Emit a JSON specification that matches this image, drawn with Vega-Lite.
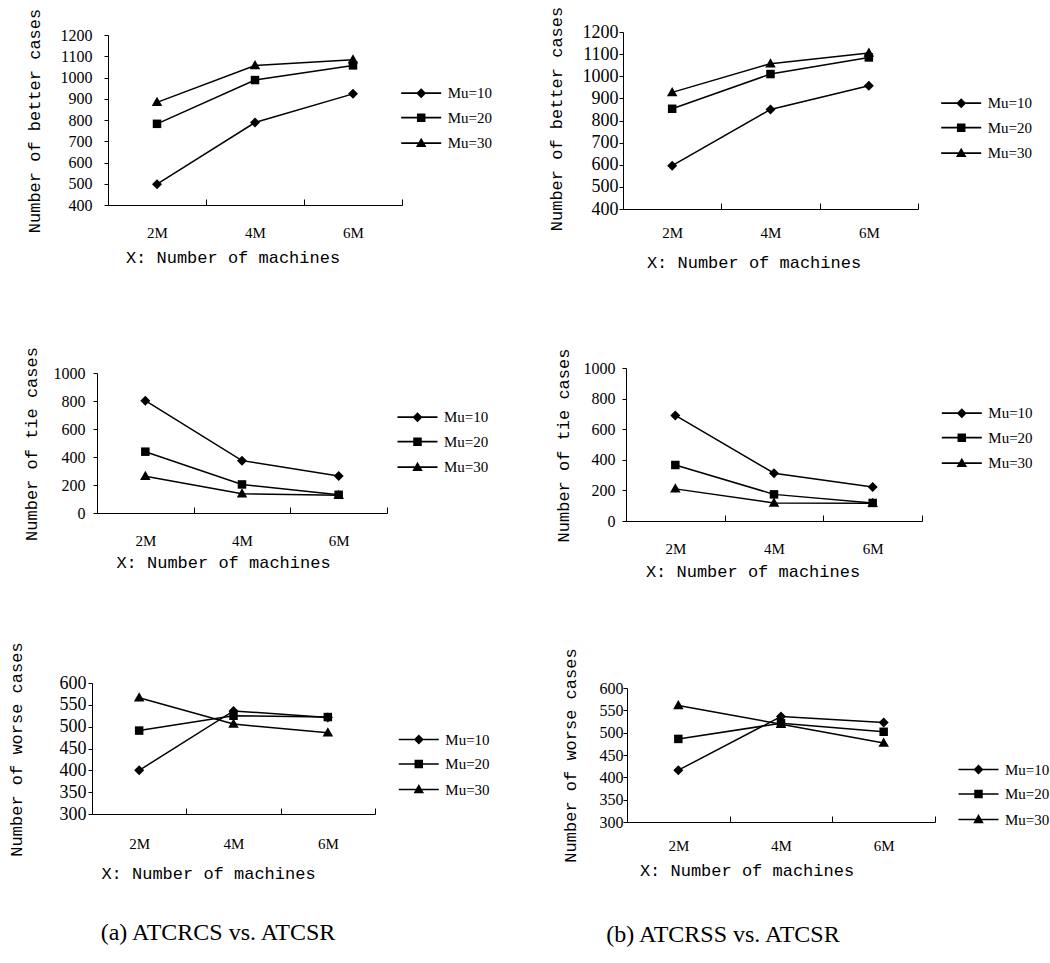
{
  "$schema": "https://vega.github.io/schema/vega-lite/v6.json",
  "padding": {"left": 6, "top": 6, "right": 5, "bottom": 5},
  "background": "white",
  "datasets": {
    "p1": [
      {"machines": "2M", "series": "Mu=10", "value": 498},
      {"machines": "4M", "series": "Mu=10", "value": 788},
      {"machines": "6M", "series": "Mu=10", "value": 923},
      {"machines": "2M", "series": "Mu=20", "value": 782},
      {"machines": "4M", "series": "Mu=20", "value": 988},
      {"machines": "6M", "series": "Mu=20", "value": 1057},
      {"machines": "2M", "series": "Mu=30", "value": 883},
      {"machines": "4M", "series": "Mu=30", "value": 1056},
      {"machines": "6M", "series": "Mu=30", "value": 1083}
    ],
    "p2": [
      {"machines": "2M", "series": "Mu=10", "value": 596},
      {"machines": "4M", "series": "Mu=10", "value": 850},
      {"machines": "6M", "series": "Mu=10", "value": 957},
      {"machines": "2M", "series": "Mu=20", "value": 853},
      {"machines": "4M", "series": "Mu=20", "value": 1010},
      {"machines": "6M", "series": "Mu=20", "value": 1085},
      {"machines": "2M", "series": "Mu=30", "value": 927},
      {"machines": "4M", "series": "Mu=30", "value": 1057},
      {"machines": "6M", "series": "Mu=30", "value": 1105}
    ],
    "p3": [
      {"machines": "2M", "series": "Mu=10", "value": 802},
      {"machines": "4M", "series": "Mu=10", "value": 374},
      {"machines": "6M", "series": "Mu=10", "value": 265},
      {"machines": "2M", "series": "Mu=20", "value": 438},
      {"machines": "4M", "series": "Mu=20", "value": 204},
      {"machines": "6M", "series": "Mu=20", "value": 130},
      {"machines": "2M", "series": "Mu=30", "value": 262},
      {"machines": "4M", "series": "Mu=30", "value": 138},
      {"machines": "6M", "series": "Mu=30", "value": 126}
    ],
    "p4": [
      {"machines": "2M", "series": "Mu=10", "value": 690},
      {"machines": "4M", "series": "Mu=10", "value": 312},
      {"machines": "6M", "series": "Mu=10", "value": 222},
      {"machines": "2M", "series": "Mu=20", "value": 366},
      {"machines": "4M", "series": "Mu=20", "value": 174},
      {"machines": "6M", "series": "Mu=20", "value": 118},
      {"machines": "2M", "series": "Mu=30", "value": 210},
      {"machines": "4M", "series": "Mu=30", "value": 118},
      {"machines": "6M", "series": "Mu=30", "value": 116}
    ],
    "p5": [
      {"machines": "2M", "series": "Mu=10", "value": 400},
      {"machines": "4M", "series": "Mu=10", "value": 536},
      {"machines": "6M", "series": "Mu=10", "value": 521},
      {"machines": "2M", "series": "Mu=20", "value": 491},
      {"machines": "4M", "series": "Mu=20", "value": 525},
      {"machines": "6M", "series": "Mu=20", "value": 522},
      {"machines": "2M", "series": "Mu=30", "value": 566},
      {"machines": "4M", "series": "Mu=30", "value": 506},
      {"machines": "6M", "series": "Mu=30", "value": 486}
    ],
    "p6": [
      {"machines": "2M", "series": "Mu=10", "value": 416},
      {"machines": "4M", "series": "Mu=10", "value": 536},
      {"machines": "6M", "series": "Mu=10", "value": 523},
      {"machines": "2M", "series": "Mu=20", "value": 486},
      {"machines": "4M", "series": "Mu=20", "value": 521},
      {"machines": "6M", "series": "Mu=20", "value": 502},
      {"machines": "2M", "series": "Mu=30", "value": 561},
      {"machines": "4M", "series": "Mu=30", "value": 519},
      {"machines": "6M", "series": "Mu=30", "value": 477}
    ]
  },
  "concat": [
    {
      "width": 294, "height": 173,
      "data": {"name": "p1"},
      "encoding": {
        "x": {"field": "machines", "type": "ordinal", "scale": {"type": "band", "paddingInner": 0, "paddingOuter": 0},
          "axis": {"title": "X: Number of machines", "titleX": 124.5, "titleY": 44, "labelPadding": 26}},
        "y": {"field": "value", "type": "quantitative", "scale": {"domain": [400, 1200], "nice": false, "zero": false, "range": [173, 3]},
          "axis": {"title": "Number of better cases", "titleX": -68.5, "titleY": 88.5, "values": [400, 500, 600, 700, 800, 900, 1000, 1100, 1200], "labelPadding": 12, "labelFontSize": 16}}
      },
      "layer": [
        {"mark": {"type": "line", "color": "black", "strokeWidth": 1.5}, "encoding": {"detail": {"field": "series"}}},
        {"mark": {"type": "point", "filled": true, "color": "black", "opacity": 1, "size": 100},
          "encoding": {"shape": {"field": "series", "type": "nominal", "legend": null}}},
        {"transform": [{"filter": "datum.value < 0"}],
          "mark": {"type": "point", "filled": true, "color": "black", "opacity": 1, "size": 100},
          "encoding": {"shape": {"field": "series", "type": "nominal",
            "scale": {"domain": ["Mu=10", "Mu=20", "Mu=30"], "range": ["M-4,-0.17L4,-0.17L4,0.17L-4,0.17ZM0,-1L1,0L0,1L-1,0Z", "M-4,-0.17L4,-0.17L4,0.17L-4,0.17ZM-0.85,-0.85L0.85,-0.85L0.85,0.85L-0.85,0.85Z", "M-4,-0.17L4,-0.17L4,0.17L-4,0.17ZM0,-1.1L1.05,0.75L-1.05,0.75Z"]},
            "legend": {"legendX": 305.7, "legendY": 53.7}}}}
      ],
      "resolve": {"scale": {"shape": "independent"}, "legend": {"shape": "independent"}}
    },
    {
      "width": 291, "height": 177,
      "data": {"name": "p2"},
      "encoding": {
        "x": {"field": "machines", "type": "ordinal", "scale": {"type": "band", "paddingInner": 0, "paddingOuter": 0, "range": [-4, 291]},
          "axis": {"title": "X: Number of machines", "titleX": 126.5, "titleY": 45, "labelPadding": 22}},
        "y": {"field": "value", "type": "quantitative", "scale": {"domain": [400, 1200], "nice": false, "zero": false},
          "axis": {"title": "Number of better cases", "offset": 4, "titleX": -62, "titleY": 86.5, "values": [400, 500, 600, 700, 800, 900, 1000, 1100, 1200], "labelPadding": 1, "labelFontSize": 18}}
      },
      "layer": [
        {"mark": {"type": "line", "color": "black", "strokeWidth": 1.5}, "encoding": {"detail": {"field": "series"}}},
        {"mark": {"type": "point", "filled": true, "color": "black", "opacity": 1, "size": 100},
          "encoding": {"shape": {"field": "series", "type": "nominal", "legend": null}}},
        {"transform": [{"filter": "datum.value < 0"}],
          "mark": {"type": "point", "filled": true, "color": "black", "opacity": 1, "size": 100},
          "encoding": {"shape": {"field": "series", "type": "nominal",
            "scale": {"domain": ["Mu=10", "Mu=20", "Mu=30"], "range": ["M-4,-0.17L4,-0.17L4,0.17L-4,0.17ZM0,-1L1,0L0,1L-1,0Z", "M-4,-0.17L4,-0.17L4,0.17L-4,0.17ZM-0.85,-0.85L0.85,-0.85L0.85,0.85L-0.85,0.85Z", "M-4,-0.17L4,-0.17L4,0.17L-4,0.17ZM0,-1.1L1.05,0.75L-1.05,0.75Z"]},
            "legend": {"legendX": 326.7, "legendY": 63.7}}}}
      ],
      "resolve": {"scale": {"shape": "independent"}, "legend": {"shape": "independent"}}
    },
    {
      "width": 279, "height": 145,
      "data": {"name": "p3"},
      "encoding": {
        "x": {"field": "machines", "type": "ordinal", "scale": {"type": "band", "paddingInner": 0, "paddingOuter": 0, "range": [-11, 279]},
          "axis": {"title": "X: Number of machines", "titleX": 115, "titleY": 41, "labelPadding": 26}},
        "y": {"field": "value", "type": "quantitative", "scale": {"domain": [0, 1000], "nice": false, "range": [145, 5]},
          "axis": {"title": "Number of tie cases", "offset": 11, "titleX": -61, "titleY": 75.5, "values": [0, 200, 400, 600, 800, 1000], "labelPadding": 8, "labelFontSize": 16}}
      },
      "layer": [
        {"mark": {"type": "line", "color": "black", "strokeWidth": 1.5}, "encoding": {"detail": {"field": "series"}}},
        {"mark": {"type": "point", "filled": true, "color": "black", "opacity": 1, "size": 100},
          "encoding": {"shape": {"field": "series", "type": "nominal", "legend": null}}},
        {"transform": [{"filter": "datum.value < 0"}],
          "mark": {"type": "point", "filled": true, "color": "black", "opacity": 1, "size": 100},
          "encoding": {"shape": {"field": "series", "type": "nominal",
            "scale": {"domain": ["Mu=10", "Mu=20", "Mu=30"], "range": ["M-4,-0.17L4,-0.17L4,0.17L-4,0.17ZM0,-1L1,0L0,1L-1,0Z", "M-4,-0.17L4,-0.17L4,0.17L-4,0.17ZM-0.85,-0.85L0.85,-0.85L0.85,0.85L-0.85,0.85Z", "M-4,-0.17L4,-0.17L4,0.17L-4,0.17ZM0,-1.1L1.05,0.75L-1.05,0.75Z"]},
            "legend": {"legendX": 302, "legendY": 41.7}}}}
      ],
      "resolve": {"scale": {"shape": "independent"}, "legend": {"shape": "independent"}}
    },
    {
      "width": 295, "height": 153,
      "data": {"name": "p4"},
      "encoding": {
        "x": {"field": "machines", "type": "ordinal", "scale": {"type": "band", "paddingInner": 0, "paddingOuter": 0, "range": [-1, 295]},
          "axis": {"title": "X: Number of machines", "titleX": 125.5, "titleY": 42, "labelPadding": 26}},
        "y": {"field": "value", "type": "quantitative", "scale": {"domain": [0, 1000], "nice": false},
          "axis": {"title": "Number of tie cases", "offset": 1, "titleX": -58, "titleY": 77, "values": [0, 200, 400, 600, 800, 1000], "labelPadding": 7, "labelFontSize": 16}}
      },
      "layer": [
        {"mark": {"type": "line", "color": "black", "strokeWidth": 1.5}, "encoding": {"detail": {"field": "series"}}},
        {"mark": {"type": "point", "filled": true, "color": "black", "opacity": 1, "size": 100},
          "encoding": {"shape": {"field": "series", "type": "nominal", "legend": null}}},
        {"transform": [{"filter": "datum.value < 0"}],
          "mark": {"type": "point", "filled": true, "color": "black", "opacity": 1, "size": 100},
          "encoding": {"shape": {"field": "series", "type": "nominal",
            "scale": {"domain": ["Mu=10", "Mu=20", "Mu=30"], "range": ["M-4,-0.17L4,-0.17L4,0.17L-4,0.17ZM0,-1L1,0L0,1L-1,0Z", "M-4,-0.17L4,-0.17L4,0.17L-4,0.17ZM-0.85,-0.85L0.85,-0.85L0.85,0.85L-0.85,0.85Z", "M-4,-0.17L4,-0.17L4,0.17L-4,0.17ZM0,-1.1L1.05,0.75L-1.05,0.75Z"]},
            "legend": {"legendX": 327.3, "legendY": 37.7}}}}
      ],
      "resolve": {"scale": {"shape": "independent"}, "legend": {"shape": "independent"}}
    },
    {
      "width": 267, "height": 134,
      "data": {"name": "p5"},
      "title": {"text": "(a) ATCRCS vs. ATCSR", "orient": "bottom", "anchor": "middle", "frame": "group", "offset": 40, "dx": -23.5},
      "encoding": {
        "x": {"field": "machines", "type": "ordinal", "scale": {"type": "band", "paddingInner": 0, "paddingOuter": 0, "range": [-16, 267]},
          "axis": {"title": "X: Number of machines", "titleX": 100, "titleY": 51, "labelPadding": 28}},
        "y": {"field": "value", "type": "quantitative", "scale": {"domain": [300, 600], "nice": false, "zero": false, "range": [134, 3]},
          "axis": {"title": "Number of worse cases", "offset": 16, "titleX": -71, "titleY": 69, "values": [300, 350, 400, 450, 500, 550, 600], "labelPadding": 2, "labelFontSize": 18}}
      },
      "layer": [
        {"mark": {"type": "line", "color": "black", "strokeWidth": 1.5}, "encoding": {"detail": {"field": "series"}}},
        {"mark": {"type": "point", "filled": true, "color": "black", "opacity": 1, "size": 100},
          "encoding": {"shape": {"field": "series", "type": "nominal", "legend": null}}},
        {"transform": [{"filter": "datum.value < 0"}],
          "mark": {"type": "point", "filled": true, "color": "black", "opacity": 1, "size": 100},
          "encoding": {"shape": {"field": "series", "type": "nominal",
            "scale": {"domain": ["Mu=10", "Mu=20", "Mu=30"], "range": ["M-4,-0.17L4,-0.17L4,0.17L-4,0.17ZM0,-1L1,0L0,1L-1,0Z", "M-4,-0.17L4,-0.17L4,0.17L-4,0.17ZM-0.85,-0.85L0.85,-0.85L0.85,0.85L-0.85,0.85Z", "M-4,-0.17L4,-0.17L4,0.17L-4,0.17ZM0,-1.1L1.05,0.75L-1.05,0.75Z"]},
            "legend": {"legendX": 303.3, "legendY": 52}}}}
      ],
      "resolve": {"scale": {"shape": "independent"}, "legend": {"shape": "independent"}}
    },
    {
      "width": 308, "height": 142,
      "data": {"name": "p6"},
      "title": {"text": "(b) ATCRSS vs. ATCSR", "orient": "bottom", "anchor": "middle", "frame": "group", "offset": 45, "dx": -58},
      "encoding": {
        "x": {"field": "machines", "type": "ordinal", "scale": {"type": "band", "paddingInner": 0, "paddingOuter": 0},
          "axis": {"title": "X: Number of machines", "titleX": 119.5, "titleY": 40, "labelPadding": 22}},
        "y": {"field": "value", "type": "quantitative", "scale": {"domain": [300, 600], "nice": false, "zero": false, "range": [142, 8]},
          "axis": {"title": "Number of worse cases", "titleX": -52, "titleY": 75, "values": [300, 350, 400, 450, 500, 550, 600], "labelPadding": 0, "labelFontSize": 16}}
      },
      "layer": [
        {"mark": {"type": "line", "color": "black", "strokeWidth": 1.5}, "encoding": {"detail": {"field": "series"}}},
        {"mark": {"type": "point", "filled": true, "color": "black", "opacity": 1, "size": 100},
          "encoding": {"shape": {"field": "series", "type": "nominal", "legend": null}}},
        {"transform": [{"filter": "datum.value < 0"}],
          "mark": {"type": "point", "filled": true, "color": "black", "opacity": 1, "size": 100},
          "encoding": {"shape": {"field": "series", "type": "nominal",
            "scale": {"domain": ["Mu=10", "Mu=20", "Mu=30"], "range": ["M-4,-0.17L4,-0.17L4,0.17L-4,0.17ZM0,-1L1,0L0,1L-1,0Z", "M-4,-0.17L4,-0.17L4,0.17L-4,0.17ZM-0.85,-0.85L0.85,-0.85L0.85,0.85L-0.85,0.85Z", "M-4,-0.17L4,-0.17L4,0.17L-4,0.17ZM0,-1.1L1.05,0.75L-1.05,0.75Z"]},
            "legend": {"legendX": 344, "legendY": 82}}}}
      ],
      "resolve": {"scale": {"shape": "independent"}, "legend": {"shape": "independent"}}
    }
  ],
  "columns": 2,
  "spacing": {"row": 159, "column": 225},
  "bounds": "flush",
  "resolve": {"scale": {"shape": "independent", "x": "independent", "y": "independent"}, "legend": {"shape": "independent"}},
  "config": {
    "view": {"stroke": null},
    "range": {"symbol": ["M0,-1L1,0L0,1L-1,0Z", "M-0.85,-0.85L0.85,-0.85L0.85,0.85L-0.85,0.85Z", "M0,-1.1L1.05,0.75L-1.05,0.75Z"]},
    "axis": {"grid": false, "domainColor": "black", "domainWidth": 1, "tickColor": "black", "labelColor": "black", "titleColor": "black", "titleFontWeight": "normal", "titleFont": "Liberation Mono", "titleFontSize": 17, "labelFont": "Liberation Serif"},
    "axisX": {"labelAngle": 0, "labelFontSize": 15, "tickBand": "extent", "tickSize": -6, "titleBaseline": "top"},
    "axisY": {"tickSize": 4, "titleBaseline": "alphabetic", "titleAngle": -90, "format": "d"},
    "legend": {
      "orient": "none", "title": null, "padding": 0, "symbolSize": 100, "labelOffset": 19, "rowPadding": 8.5,
      "labelFont": "Liberation Serif", "labelFontSize": 15, "labelColor": "black",
      "symbolFillColor": "black", "symbolOpacity": 1
    },
    "title": {"font": "Liberation Serif", "fontSize": 24, "fontWeight": "normal", "color": "black"}
  }
}
